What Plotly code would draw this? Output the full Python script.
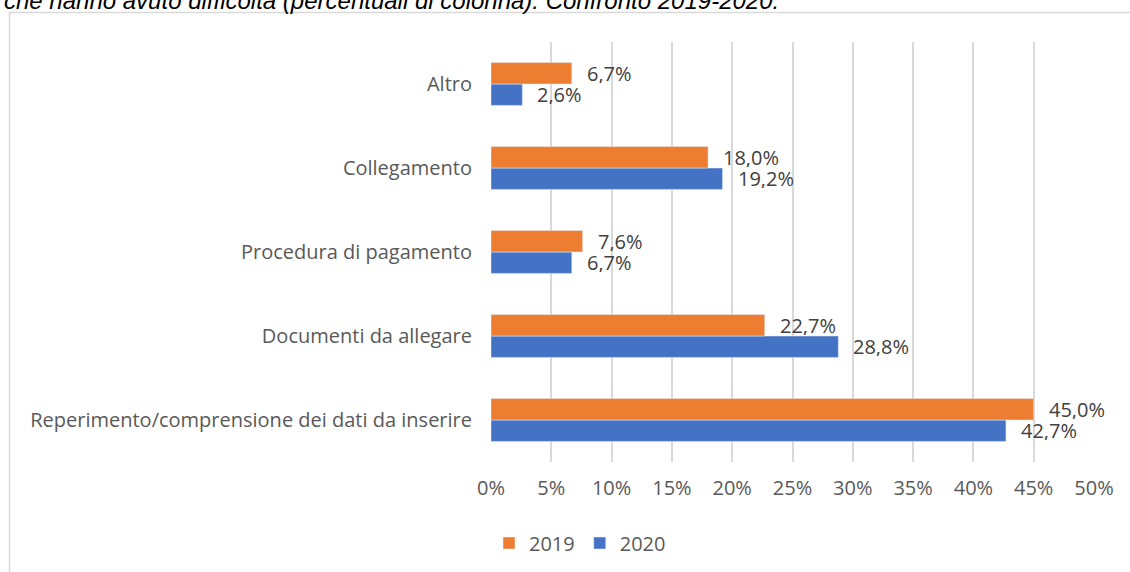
import plotly.graph_objects as go

categories = ["Reperimento/comprensione dei dati da inserire", "Documenti da allegare",
              "Procedura di pagamento", "Collegamento", "Altro"]
values_2019 = [45.0, 22.7, 7.6, 18.0, 6.7]
values_2020 = [42.7, 28.8, 6.7, 19.2, 2.6]
tick_vals = [0, 5, 10, 15, 20, 25, 30, 35, 40, 45, 50]
tick_text = ["0%", "5%", "10%", "15%", "20%", "25%", "30%", "35%", "40%", "45%", "50%"]
title_text = "che hanno avuto difficoltà (percentuali di colonna). Confronto 2019-2020."

W, H = 1130, 572
ORANGE = "#ED7D31"
BLUE = "#4472C4"
FONT = "Open Sans"
TXT = "#595959"

fig = go.Figure()
fig.add_trace(go.Bar(y=categories, x=values_2020, name="2020", orientation="h",
                     marker=dict(color=BLUE), legendrank=2))
fig.add_trace(go.Bar(y=categories, x=values_2019, name="2019", orientation="h",
                     marker=dict(color=ORANGE), legendrank=1))

def fmt(v):
    return f"{v:.1f}".replace(".", ",") + "%"

annotations = []
for i, c in enumerate(categories):
    annotations.append(dict(x=values_2019[i], y=c, xref="x", yref="y", text=fmt(values_2019[i]),
                            showarrow=False, xanchor="left", yanchor="middle", xshift=13, yshift=11,
                            height=20, font=dict(family=FONT, size=20, color="#404040")))
    annotations.append(dict(x=values_2020[i], y=c, xref="x", yref="y", text=fmt(values_2020[i]),
                            showarrow=False, xanchor="left", yanchor="middle", xshift=13, yshift=-10,
                            height=20, font=dict(family=FONT, size=20, color="#404040")))

annotations.append(dict(x=2 / W, y=1 - 16 / H, xref="paper", yref="paper", text="<i>" + title_text + "</i>",
                        showarrow=False, xanchor="left", yanchor="bottom",
                        font=dict(family="Liberation Sans", size=24, color="#000000")))

fig.update_layout(
    width=W, height=H,
    margin=dict(l=0, r=0, t=0, b=0, autoexpand=False),
    paper_bgcolor="white", plot_bgcolor="white",
    barmode="group", bargap=0.49, bargroupgap=0,
    font=dict(family=FONT, size=20, color=TXT),
    xaxis=dict(domain=[491 / W, 1094 / W], range=[0, 50], tickmode="array", tickvals=tick_vals,
               ticktext=tick_text, showgrid=True, gridcolor="#d9d9d9", gridwidth=1.5,
               zeroline=False, showline=False, ticks="", ticklabelstandoff=12,
               tickfont=dict(family=FONT, size=20, color=TXT)),
    yaxis=dict(domain=[1 - 462 / H, 1 - 42 / H], showgrid=False, zeroline=False, showline=False,
               ticks="", ticklabelstandoff=18, tickfont=dict(family=FONT, size=20, color=TXT)),
    legend=dict(orientation="h", x=489 / W, y=1 - 543 / H, xanchor="left", yanchor="middle",
                font=dict(family=FONT, size=20, color=TXT), itemwidth=30, bgcolor="rgba(0,0,0,0)"),
    showlegend=True,
    annotations=annotations,
    shapes=[dict(type="rect", xref="paper", yref="paper", x0=9.5 / W, x1=1.2, y0=-0.2, y1=1 - 12.5 / H,
                 line=dict(color="#d9d9d9", width=1.5), fillcolor="rgba(0,0,0,0)", layer="below")],
)

fig.write_html("out.html", config={"displayModeBar": False},
               post_script="document.body.style.margin='0';")
